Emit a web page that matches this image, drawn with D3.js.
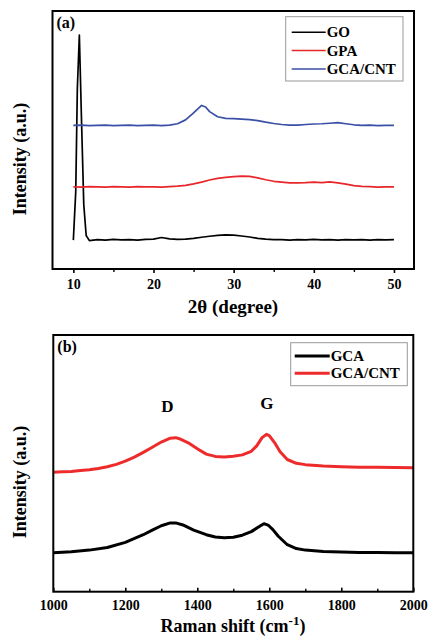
<!DOCTYPE html>
<html>
<head>
<meta charset="utf-8">
<script src="https://cdnjs.cloudflare.com/ajax/libs/d3/7.8.5/d3.min.js"></script>
<style>
  body { margin: 0; background: #fff; }
  text { font-family: "Liberation Serif", "Times New Roman", serif; font-weight: bold; fill: #000; }
</style>
</head>
<body>
<svg id="chart" width="430" height="637"></svg>
<script>
// ---- panel (a): XRD, intensity in arbitrary units ----
var xrdMajor = [10, 20, 30, 40, 50];
var xrdMinor = [15, 25, 35, 45];
var xrdGO = [[10,112],[10.3,300],[10.5,700],[10.75,907],[11,600],[11.3,250],[11.6,130],[12,110],[13,114],[14,112],[15,115],[16,113],[17,114],[18,112],[19,115],[20,116],[21,122],[22,117],[23,115],[24,116],[25,119],[26,123],[27,127],[28,130],[29,132],[30,131],[31,128],[32,124],[33,119],[34,116],[35,114],[36,114],[37,112],[38,114],[39,113],[40,115],[41,113],[42,114],[43,112],[44,114],[45,113],[46,114],[47,112],[48,114],[49,113],[50,114]];
var xrdGPA = [[10,318],[11,317],[12,319],[13,318],[14,317],[15,319],[16,318],[17,317],[18,319],[19,318],[20,318],[21,317],[22,319],[23,321],[24,324],[25,330],[26,337],[27,345],[28,351],[29,355],[30,358],[31,360],[32,359],[33,353],[34,346],[35,340],[36,337],[37,334],[38,334],[39,335],[40,337],[41,335],[42,338],[43,334],[44,329],[45,323],[46,320],[47,319],[48,317],[49,318],[50,318]];
var xrdCNT = [[10,557],[11,558],[12,556],[13,557],[14,558],[15,556],[16,557],[17,558],[18,556],[19,557],[20,558],[21,556],[22,558],[23,563],[24,578],[25,605],[25.5,620],[26,634],[26.5,628],[27,610],[28,590],[29,584],[30,583],[31,581],[32,579],[33,575],[34,569],[35,564],[36,560],[37,558],[38,558],[39,560],[40,562],[41,563],[42,565],[43,567],[44,563],[45,559],[46,557],[47,558],[48,556],[49,557],[50,557]];

// ---- panel (b): Raman ----
var ramanMajor = [1000, 1200, 1400, 1600, 1800, 2000];
var ramanMinor = [1100, 1300, 1500, 1700, 1900];
var ramanGCA = [[1000,152],[1050,156],[1100,162],[1150,172],[1200,192],[1250,222],[1275,240],[1300,257],[1325,268],[1340,268],[1360,260],[1390,240],[1425,222],[1450,213],[1475,210],[1500,212],[1525,220],[1550,234],[1570,252],[1585,265],[1598,258],[1610,242],[1625,216],[1650,183],[1675,168],[1700,162],[1750,157],[1800,155],[1850,153],[1900,153],[1950,152],[2000,152]];
var ramanCNT = [[1000,465],[1025,467],[1050,468],[1075,472],[1100,475],[1125,480],[1150,487],[1175,496],[1200,509],[1225,524],[1250,543],[1275,563],[1300,583],[1325,598],[1340,600],[1350,596],[1375,580],[1400,557],[1425,536],[1450,527],[1475,525],[1500,528],[1525,533],[1550,547],[1565,568],[1580,600],[1592,613],[1600,608],[1615,580],[1630,545],[1650,515],[1675,500],[1700,495],[1750,490],[1800,487],[1850,485],[1900,485],[1950,484],[2000,483]];

var svg = d3.select("#chart");

function drawPanel(p) {
  var x = d3.scaleLinear().domain(p.xDomain).range([p.left, p.right]);
  var y = d3.scaleLinear().domain([0, 1000]).range([p.bottom, p.top]);
  var g = svg.append("g");

  // ticks (major with labels, minor without)
  var ax = g.append("g").attr("transform", "translate(0," + p.bottom + ")")
    .call(d3.axisBottom(x).tickValues(p.major).tickSize(p.tickDir * 4).tickPadding(p.pad).tickFormat(d3.format("d")));
  ax.select(".domain").remove();
  ax.selectAll("line").attr("stroke-width", 1.6);
  ax.selectAll("text").style("font-size", "14px").attr("font-family", null);
  var mx = g.append("g").attr("transform", "translate(0," + p.bottom + ")")
    .call(d3.axisBottom(x).tickValues(p.minor).tickSize(p.tickDir * 3).tickFormat(""));
  mx.select(".domain").remove();
  mx.selectAll("line").attr("stroke-width", 1.4);

  // curves
  var line = d3.line().x(function(d) { return x(d[0]); }).y(function(d) { return y(d[1]); });
  p.series.forEach(function(s) {
    g.append("path").datum(s.data)
      .attr("fill", "none").attr("stroke", s.color)
      .attr("stroke-width", p.lw).attr("stroke-linejoin", "round")
      .attr("d", line);
  });

  // frame
  g.append("rect").attr("x", p.left).attr("y", p.top)
    .attr("width", p.right - p.left).attr("height", p.bottom - p.top)
    .attr("fill", "none").attr("stroke", "#000").attr("stroke-width", 2);

  // panel tag
  g.append("text").attr("x", p.left + 4).attr("y", p.top + 17).style("font-size", "16px").text(p.tag);

  // legend
  var L = p.legend;
  g.append("rect").attr("x", L.x).attr("y", L.y).attr("width", L.w).attr("height", L.h)
    .attr("fill", "#fff").attr("stroke", "#999").attr("stroke-width", 1);
  p.series.forEach(function(s, i) {
    var ly = L.y + L.first + i * L.step;
    g.append("line").attr("x1", L.x + L.l0).attr("x2", L.x + L.l1).attr("y1", ly).attr("y2", ly)
      .attr("stroke", s.color).attr("stroke-width", L.lw);
    g.append("text").attr("x", L.x + L.l1 + 1).attr("y", ly + 5).style("font-size", "15px").text(s.name);
  });

  // y label
  g.append("text").attr("transform", "translate(" + 26 + "," + p.ylabelY + ") rotate(-90)")
    .attr("text-anchor", "middle").style("font-size", "18px").text("Intensity (a.u.)");
  return { x: x, y: y, g: g };
}

drawPanel({
  left: 52.5, right: 414, top: 11, bottom: 269, xDomain: [7.4, 52.5],
  major: xrdMajor, minor: xrdMinor, tickDir: 1, pad: 6, lw: 1.7, tag: "(a)", ylabelY: 159,
  series: [
    { name: "GO", color: "#000000", data: xrdGO },
    { name: "GPA", color: "#e8262a", data: xrdGPA },
    { name: "GCA/CNT", color: "#3a4fa6", data: xrdCNT }
  ],
  legend: { x: 285.7, y: 16.7, w: 117.3, h: 64.3, first: 15.6, step: 18.3, l0: 6, l1: 40, lw: 1.5 }
});
svg.append("text").attr("x", 233).attr("y", 313).attr("text-anchor", "middle")
  .style("font-size", "19px").text("2\u03b8 (degree)");

var pb = drawPanel({
  left: 53.3, right: 413.3, top: 335, bottom: 591.7, xDomain: [1000, 2000],
  major: ramanMajor, minor: ramanMinor, tickDir: -1, pad: 8, lw: 3, tag: "(b)", ylabelY: 482,
  series: [
    { name: "GCA", color: "#000000", data: ramanGCA },
    { name: "GCA/CNT", color: "#ee2b2b", data: ramanCNT }
  ],
  legend: { x: 290.7, y: 342.7, w: 116.6, h: 43, first: 13.3, step: 17.3, l0: 4, l1: 39, lw: 3 }
});
pb.g.append("text").attr("x", pb.x(1317)).attr("y", 412).attr("text-anchor", "middle").style("font-size", "17px").text("D");
pb.g.append("text").attr("x", pb.x(1593)).attr("y", 409).attr("text-anchor", "middle").style("font-size", "17px").text("G");

var rt = svg.append("text").attr("x", 233).attr("y", 632).attr("text-anchor", "middle").style("font-size", "18px");
rt.append("tspan").text("Raman shift (cm");
rt.append("tspan").attr("dy", -7).style("font-size", "13px").text("-1");
rt.append("tspan").attr("dy", 7).text(")");
</script>
</body>
</html>
